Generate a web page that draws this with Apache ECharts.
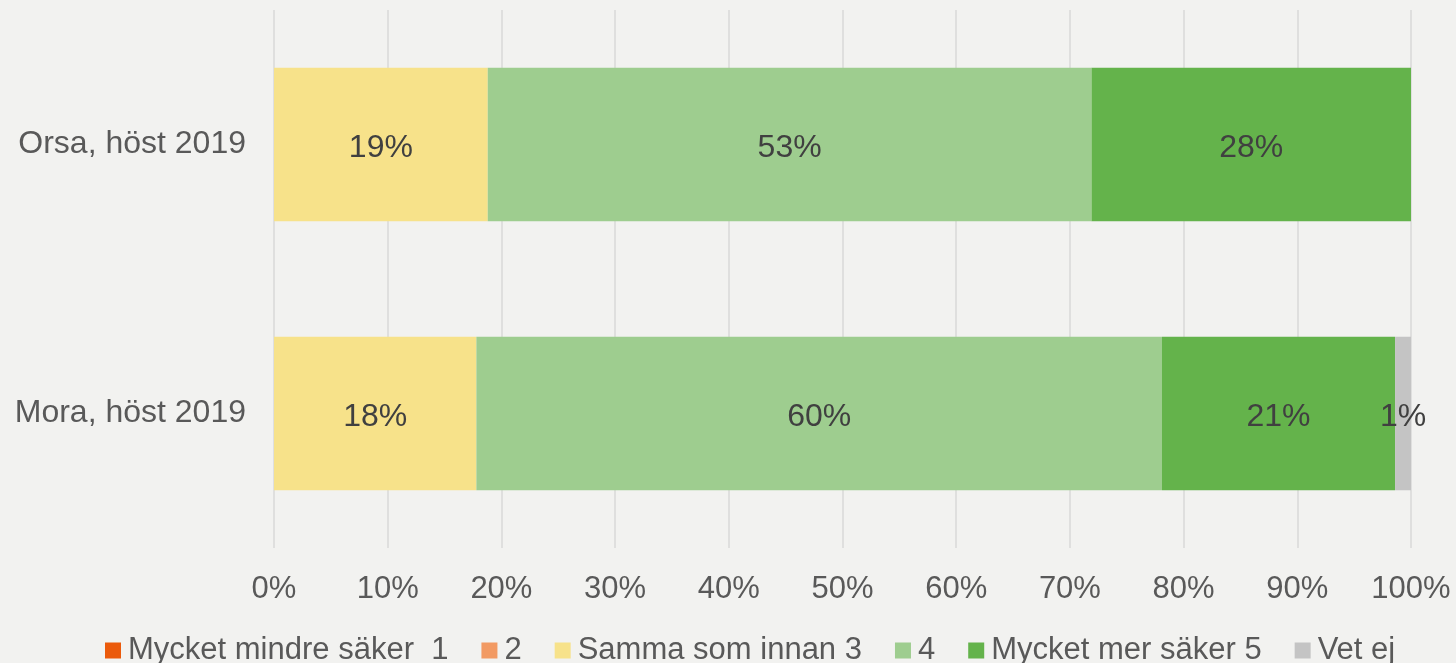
<!DOCTYPE html>
<html>
<head>
<meta charset="utf-8">
<script src="https://cdn.jsdelivr.net/npm/echarts@6/dist/echarts.min.js"></script>
<style>
  html, body { margin: 0; padding: 0; background: #f2f2f0; }
  #chart { width: 1456px; height: 663px; }
</style>
</head>
<body>
<div id="chart"></div>
<script>
// kategorier (nedifrån och upp i echarts)
let categories = ['Mora, höst 2019', 'Orsa, höst 2019'];

let seriesNames = ['Mycket mindre säker  1', '2', 'Samma som innan 3', '4', 'Mycket mer säker 5', 'Vet ej'];
let seriesColors = ['#eb5a0b', '#f29a63', '#f7e28a', '#9ecd8f', '#64b34b', '#c4c4c4'];

// andelar i procent per kategori
let val1 = [0, 0];
let val2 = [0, 0];
let val3 = [17.8, 18.8];
let val4 = [60.3, 53.1];
let val5 = [20.5, 28.1];
let valVetEj = [1.4, 0];

let xTicks = [0, 10, 20, 30, 40, 50, 60, 70, 80, 90, 100];

let allValues = [val1, val2, val3, val4, val5, valVetEj];

let myChart = echarts.init(document.getElementById('chart'));

let series = seriesNames.map(function (name, i) {
    return {
        name: name,
        type: 'bar',
        stack: 'total',
        barWidth: '57%',
        data: allValues[i],
        itemStyle: { color: seriesColors[i] },
        label: {
            show: true,
            position: 'inside',
            offset: [0, 4],
            color: '#404040',
            fontSize: 32,
            fontFamily: 'Liberation Sans',
            formatter: function (p) {
                return p.value > 0 ? Math.round(p.value) + '%' : '';
            }
        }
    };
});

let option = {
    backgroundColor: '#f2f2f0',
    animation: false,
    grid: {
        left: 274,
        right: 45,
        top: 10,
        bottom: 115
    },
    legend: {
        data: seriesNames,
        top: 630,
        left: 100,
        itemWidth: 16,
        itemHeight: 16,
        itemGap: 33,
        icon: 'rect',
        textStyle: {
            color: '#595959',
            fontSize: 31,
            fontFamily: 'Liberation Sans',
            padding: [0, 0, 0, 2]
        }
    },
    xAxis: {
        type: 'value',
        min: xTicks[0],
        max: xTicks[xTicks.length - 1],
        interval: 10,
        axisLine: { show: false },
        axisTick: { show: false },
        splitLine: { lineStyle: { color: '#d9d9d9', width: 1.5 } },
        axisLabel: {
            color: '#595959',
            fontSize: 31,
            fontFamily: 'Liberation Sans',
            margin: 26,
            formatter: '{value}%'
        }
    },
    yAxis: {
        type: 'category',
        data: categories,
        axisLine: { show: false },
        axisTick: { show: false },
        axisLabel: {
            color: '#595959',
            fontSize: 32,
            fontFamily: 'Liberation Sans',
            margin: 28
        }
    },
    series: series
};

myChart.setOption(option);
</script>
</body>
</html>
